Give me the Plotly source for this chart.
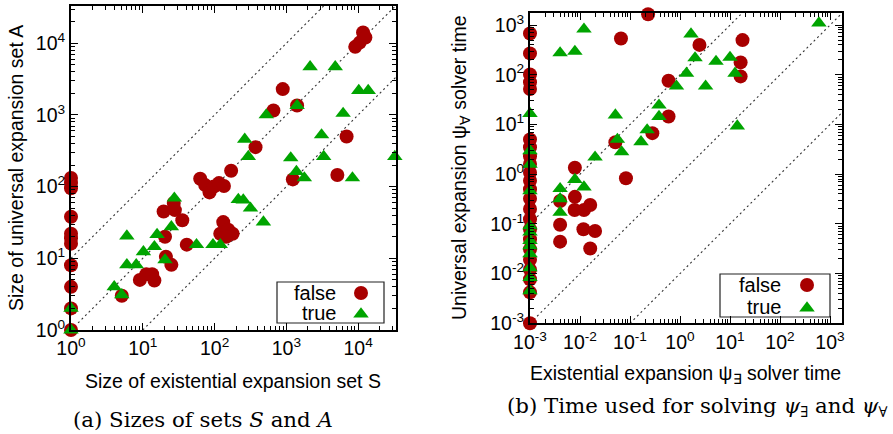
import numpy as np
import plotly.graph_objects as go

W, H = 893, 434

# ---------------- (a) sizes of sets S (x) and A (y) ----------------
a_false_S = [1, 1, 1, 1, 1, 1, 1, 1, 1, 1, 1,
             5.1, 9.1, 11.2, 13.5, 14.5, 21, 25, 20.4, 19.5, 27, 28, 35.5, 41,
             63, 74, 85, 98, 115, 135, 170, 132, 120, 155, 178, 145,
             372, 660, 890, 1410, 1230, 5130, 6900, 9100, 10500, 11700, 12600]
a_false_A = [1, 2, 4, 8, 16, 19, 22, 38, 95, 112, 132,
             3, 5, 6, 6, 4.9, 10.5, 8.1, 20, 45, 59, 47, 34, 15.5,
             129, 105, 83, 100, 112, 102, 166, 32, 22, 25, 22, 20,
             355, 1150, 2290, 1350, 126, 145, 500, 8900, 10200, 14100, 12000]
a_true_S = [1, 1, 4, 5.1, 6, 6, 8.1, 10.2, 14.5, 15.8, 20.4, 25, 27.5,
            56, 95, 120, 214, 251, 316, 479, 263, 295, 525, 1410, 1150, 1380,
            1780, 2140, 3090, 3310, 4790, 6170, 8320, 10200, 13800, 32400]
a_true_A = [1, 2, 4, 3.1, 20.4, 8.1, 8.1, 12.3, 14.5, 21.4, 9.5, 27.5, 69,
            15.5, 15.5, 15.5, 66, 65, 50, 32, 457, 263, 1000, 1350, 251, 162,
            132, 4680, 525, 263, 4680, 1050, 132, 2190, 2190, 263]

# ---------------- (b) solver times psi_E (x) and psi_A (y) ----------------
b_false_E = [0.001] * 23 + [0.004, 0.004, 0.004, 0.0079, 0.0079, 0.0078, 0.012, 0.016,
                            0.0117, 0.02, 0.016, 0.051, 0.083, 0.066, 0.23, 0.28,
                            0.59, 0.59, 2.45, 16.3, 16.3, 17.8]
b_false_A = [676, 270, 102, 71, 52, 5.0, 3.5, 2.3, 1.6, 1.07, 0.74, 0.50, 0.32, 0.20,
             0.124, 0.078, 0.049, 0.031, 0.019, 0.012, 0.0077, 0.0042, 0.001,
             0.29, 0.096, 0.044, 1.35, 0.35, 0.19, 0.19, 0.24,
             0.078, 0.072, 0.032, 4.4, 0.83, 537, 1660, 6.7,
             76, 14.5, 400, 178, 93, 500]
b_true_E = [0.001] * 12 + [0.004, 0.004, 0.004, 0.004, 0.0079, 0.012, 0.0079, 0.012,
                           0.02, 0.051, 0.056, 0.068, 0.166, 0.22, 0.38, 0.38, 0.85,
                           1.35, 1.66, 2.0, 3.25, 5.25, 10, 12.6, 14, 600]
b_true_A = [16.6, 2.95, 1.58, 0.46, 0.091, 0.068, 0.046, 0.036, 0.025, 0.013, 0.0083, 0.0045,
            0.51, 0.32, 0.17, 275, 295, 830, 0.78, 0.55,
            2.2, 15.5, 5.0, 2.8, 4.5, 7.8, 24.5, 14.5, 59,
            107, 660, 219, 59, 186, 224, 107, 9.3, 1100]

a_ticks = [1, 10, 100, 1000, 10000]
a_ticktext = ["10<sup>0</sup>", "10<sup>1</sup>", "10<sup>2</sup>", "10<sup>3</sup>", "10<sup>4</sup>"]
b_ticks = [1e-3, 1e-2, 1e-1, 1, 10, 100, 1000]
b_ticktext = ["10<sup>-3</sup>", "10<sup>-2</sup>", "10<sup>-1</sup>", "10<sup>0</sup>",
              "10<sup>1</sup>", "10<sup>2</sup>", "10<sup>3</sup>"]

a_diag_factors = [10, 1, 0.1]
b_diag_factors = [100, 1, 0.01]

RED = "#a80000"
GREEN = "#00a400"
SANS = "Liberation Sans, Arial, Helvetica, sans-serif"
SERIF = "DejaVu Serif, serif"

# pixel geometry of the two panels
A_BOX = dict(x0=71, x1=396, y0=6, y1=330)
B_BOX = dict(x0=530, x1=842, y0=12.7, y1=323.3)
a_range_x = [0, 4.527]
a_range_y = [0, 4.519]
b_range_x = [-3, 3.24]
b_range_y = [-3, 3.25]


def px(x):
    return x / W


def py(y):
    return 1 - y / H


def minor_vals(lo, hi):
    vals = []
    for d in range(lo, hi + 1):
        for m in range(2, 10):
            vals.append(m * 10.0 ** d)
    return vals


fig = go.Figure()

# diagonal reference lines
def add_diags(factors, rx, ry, xa, ya):
    for k in factors:
        lk = np.log10(k)
        xs = max(rx[0], ry[0] - lk)
        xe = min(rx[1], ry[1] - lk)
        xx = [10 ** xs, 10 ** xe]
        yy = [k * v for v in xx]
        fig.add_trace(go.Scatter(x=xx, y=yy, mode="lines", xaxis=xa, yaxis=ya,
                                 line=dict(color="#333333", width=1.1, dash="2px,3px"),
                                 showlegend=False, hoverinfo="skip"))

add_diags(a_diag_factors, a_range_x, a_range_y, "x", "y")
add_diags(b_diag_factors, b_range_x, b_range_y, "x2", "y2")

CIRC = dict(symbol="circle", size=14, color=RED, line=dict(width=0))
TRI = dict(symbol="triangle-up", size=13.5, color=GREEN, line=dict(width=0))

fig.add_trace(go.Scatter(x=a_false_S, y=a_false_A, mode="markers", marker=CIRC,
                         xaxis="x", yaxis="y", cliponaxis=False, showlegend=False))
fig.add_trace(go.Scatter(x=a_true_S, y=a_true_A, mode="markers", marker=TRI,
                         xaxis="x", yaxis="y", cliponaxis=False, showlegend=False))
fig.add_trace(go.Scatter(x=b_false_E, y=b_false_A, mode="markers", marker=CIRC,
                         xaxis="x2", yaxis="y2", cliponaxis=False, showlegend=False))
fig.add_trace(go.Scatter(x=b_true_E, y=b_true_A, mode="markers", marker=TRI,
                         xaxis="x2", yaxis="y2", cliponaxis=False, showlegend=False))

# legend samples on a pixel-coordinate overlay axis
legend_labels = ["false", "true"]
legends = [dict(box=(277, 282, 384, 323), tx=338, mx=361, ys=(293, 313)),
           dict(box=(720, 274, 830, 317), tx=783, mx=807, ys=(285, 307))]
for lg in legends:
    fig.add_trace(go.Scatter(x=[lg["mx"]], y=[lg["ys"][0]], mode="markers", marker=CIRC,
                             xaxis="x3", yaxis="y3", showlegend=False, hoverinfo="skip"))
    fig.add_trace(go.Scatter(x=[lg["mx"]], y=[lg["ys"][1] + 1], mode="markers", marker=TRI,
                             xaxis="x3", yaxis="y3", showlegend=False, hoverinfo="skip"))

def axis_common(tv, tt, rng, minor):
    return dict(type="log", range=rng, tickmode="array", tickvals=tv, ticktext=tt,
                ticks="inside", ticklen=7, tickwidth=1, tickcolor="black",
                showline=True, linecolor="black", linewidth=2, mirror="allticks",
                showgrid=False, zeroline=False, automargin=False,
                tickfont=dict(family=SANS, size=19.5, color="black"),
                minor=dict(tickmode="array", tickvals=minor, ticks="inside", ticklen=4,
                           tickwidth=1, tickcolor="black", showgrid=False))

layout = dict(
    template="none",
    width=W, height=H, margin=dict(l=0, r=0, t=0, b=0, pad=0),
    paper_bgcolor="white", plot_bgcolor="rgba(0,0,0,0)",
    showlegend=False,
    xaxis=dict(axis_common(a_ticks, a_ticktext, a_range_x, minor_vals(0, 4)),
               domain=[px(A_BOX["x0"]), px(A_BOX["x1"])], anchor="y"),
    yaxis=dict(axis_common(a_ticks, a_ticktext, a_range_y, minor_vals(0, 4)),
               domain=[py(A_BOX["y1"]), py(A_BOX["y0"])], anchor="x"),
    xaxis2=dict(axis_common(b_ticks, b_ticktext, b_range_x, minor_vals(-3, 3)),
                domain=[px(B_BOX["x0"]), px(B_BOX["x1"])], anchor="y2"),
    yaxis2=dict(axis_common(b_ticks, b_ticktext, b_range_y, minor_vals(-3, 3)),
                domain=[py(B_BOX["y1"]), py(B_BOX["y0"])], anchor="x2"),
    xaxis3=dict(domain=[0, 1], range=[0, W], visible=False, anchor="y3",
                fixedrange=True, automargin=False),
    yaxis3=dict(domain=[0, 1], range=[H, 0], visible=False, anchor="x3",
                fixedrange=True, automargin=False),
)
fig.update_layout(**layout)

shapes = []
for lg in legends:
    x0, y0, x1, y1 = lg["box"]
    shapes.append(dict(type="rect", xref="paper", yref="paper", x0=px(x0), x1=px(x1),
                       y0=py(y1), y1=py(y0), line=dict(color="#222222", width=1.2),
                       fillcolor="white", layer="below"))
fig.update_layout(shapes=shapes)

ann = []
for lg in legends:
    for lab, yy in zip(legend_labels, lg["ys"]):
        ann.append(dict(text=lab, x=px(lg["tx"]), y=py(yy), xref="paper", yref="paper",
                        xanchor="right", yanchor="middle", showarrow=False,
                        font=dict(family=SANS, size=20, color="black")))

def title(text, x, y, angle=0, font=SANS, size=19.5):
    ann.append(dict(text=text, x=px(x), y=py(y), xref="paper", yref="paper",
                    xanchor="center", yanchor="middle", showarrow=False, textangle=angle,
                    font=dict(family=font, size=size, color="black")))

title("Size of existential expansion set S", 233, 381)
title("Size of universal expansion set A", 16, 168, angle=-90)
title("Existential expansion ψ<sub>∃</sub> solver time", 685, 374)
title("Universal expansion ψ<sub>∀</sub> solver time", 460, 168, angle=-90)
title("(a) Sizes of sets <i>S</i> and <i>A</i>", 203, 419, font=SERIF, size=21.3)
title("(b) Time used for solving <i>ψ</i><sub>∃</sub> and <i>ψ</i><sub>∀</sub>", 697, 407,
      font=SERIF, size=21.3)
fig.update_layout(annotations=ann)

fig.write_html(
    "out.html",
    config={"displayModeBar": False, "staticPlot": True},
    post_script="document.body.style.margin='0';document.body.style.overflow='hidden';",
)
